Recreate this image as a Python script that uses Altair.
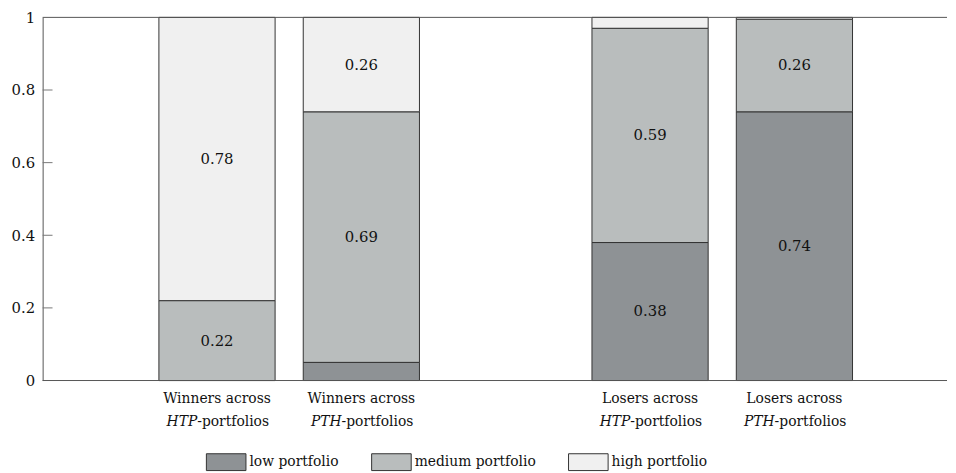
import altair as alt
import pandas as pd

# ---- data ----
group_keys = ["W_HTP", "W_PTH", "L_HTP", "L_PTH"]
x_domain = ["W_HTP", "W_PTH", "gap", "L_HTP", "L_PTH"]
line1 = ["Winners across", "Winners across", "Losers across", "Losers across"]
italic_part = ["HTP", "PTH", "HTP", "PTH"]
suffix = ["-portfolios", "-portfolios", "-portfolios", "-portfolios"]
portfolios = ["low portfolio", "medium portfolio", "high portfolio"]
low = [0.0, 0.05, 0.38, 0.74]
medium = [0.22, 0.69, 0.59, 0.255]
high = [0.78, 0.26, 0.03, 0.005]
low_lbl = ["", "", "0.38", "0.74"]
med_lbl = ["0.22", "0.69", "0.59", "0.26"]
high_lbl = ["0.78", "0.26", "", ""]
colors = ["#8e9295", "#b9bdbd", "#f0f0f0"]
y_ticks = [0, 0.2, 0.4, 0.6, 0.8, 1]
inner_ticks = [0.2, 0.4, 0.6, 0.8]
edges = [0, 1]

rows = []
for i, g in enumerate(group_keys):
    for j, (p, vals, lbls) in enumerate(zip(portfolios, [low, medium, high], [low_lbl, med_lbl, high_lbl])):
        rows.append(dict(group=g, portfolio=p, order=j, value=vals[i], label=lbls[i]))
df = pd.DataFrame(rows)
labels_df = pd.DataFrame(dict(group=group_keys, line1=line1, ital=italic_part, suffix=suffix))

F = "DejaVu Serif"
W, H = 914, 367
XOFF = 11
xscale = alt.Scale(domain=x_domain, paddingInner=0.195, paddingOuter=0.73)
yscale = alt.Scale(domain=[0, 1], nice=False)

bars = alt.Chart(df).mark_bar(stroke="#333", strokeWidth=1, xOffset=XOFF).encode(
    x=alt.X("group:N", scale=xscale, axis=None),
    y=alt.Y("value:Q", stack="zero", scale=yscale,
            axis=alt.Axis(values=y_ticks, ticks=False, grid=False, title=None,
                          domainColor="#555", labelFont=F, labelFontSize=15,
                          labelPadding=8, labelColor="#111", format="~g")),
    color=alt.Color("portfolio:N", scale=alt.Scale(domain=portfolios, range=colors),
                    legend=alt.Legend(title=None, orient="none", legendX=165, legendY=429,
                                      direction="horizontal",
                                      symbolType="M-1,-0.425H1V0.425H-1Z",
                                      symbolSize=1600, symbolStrokeColor="#333",
                                      symbolStrokeWidth=1, symbolOpacity=1,
                                      labelFont=F, labelFontSize=14, labelColor="#111",
                                      labelOffset=3, columnPadding=30)),
    order=alt.Order("order:Q"),
)

seg_text = alt.Chart(df).transform_stack(
    stack="value", groupby=["group"], sort=[alt.SortField("order")], as_=["v0", "v1"]
).transform_calculate(mid="(datum.v0 + datum.v1) / 2").transform_filter(
    "datum.label != ''"
).mark_text(font=F, fontSize=15, color="#111", xOffset=XOFF).encode(
    x=alt.X("group:N", scale=xscale, axis=None),
    y=alt.Y("mid:Q", scale=yscale),
    text="label:N",
)

lab1 = alt.Chart(labels_df).mark_text(font=F, fontSize=14, color="#111", baseline="middle",
                                      xOffset=XOFF).encode(
    x=alt.X("group:N", scale=xscale, axis=None), y=alt.value(H + 19), text="line1:N")
lab2a = alt.Chart(labels_df).mark_text(font=F, fontSize=14, color="#111", baseline="middle",
                                       fontStyle="italic", align="right", dx=-20,
                                       xOffset=XOFF).encode(
    x=alt.X("group:N", scale=xscale, axis=None), y=alt.value(H + 42), text="ital:N")
lab2b = alt.Chart(labels_df).mark_text(font=F, fontSize=14, color="#111", baseline="middle",
                                       align="left", dx=-20, xOffset=XOFF).encode(
    x=alt.X("group:N", scale=xscale, axis=None), y=alt.value(H + 42), text="suffix:N")

ticks = alt.Chart(pd.DataFrame({"t": inner_ticks})).mark_rule(color="#777").encode(
    y=alt.Y("t:Q", scale=yscale), x=alt.value(0), x2=alt.value(10))
frame = alt.Chart(pd.DataFrame({"e": edges})).mark_rule(color="#555").encode(
    y=alt.Y("e:Q", scale=yscale))

chart = alt.layer(bars, seg_text, lab1, lab2a, lab2b, ticks, frame).properties(
    width=W, height=H,
    padding={"left": 3, "top": 0, "right": 0, "bottom": 0},
).configure_view(stroke=None)

chart.save("out.html", embed_options={"renderer": "svg", "actions": False})
